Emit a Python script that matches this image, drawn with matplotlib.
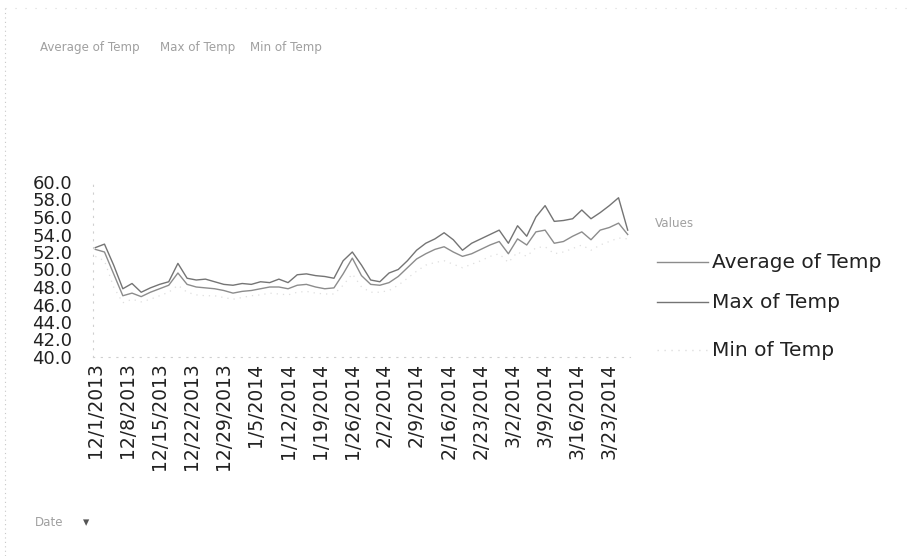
import matplotlib
matplotlib.use("Agg")
import matplotlib.pyplot as plt
from matplotlib.lines import Line2D
import pandas as pd

plt.rcParams['font.family'] = ['DejaVu Sans']

start_date = "2013-12-01"
n_points = 59  # every 2 days, 12/1/2013 .. 3/27/2014

max_temp = [52.5, 52.9, 50.5, 47.8, 48.4, 47.4, 47.9, 48.3, 48.6, 50.7,
            49.0, 48.8, 48.9, 48.6, 48.3, 48.2, 48.4, 48.3, 48.6, 48.5,
            48.9, 48.5, 49.4, 49.5, 49.3, 49.2, 49.0, 51.0, 52.0, 50.5,
            48.8, 48.6, 49.6, 50.0, 51.0, 52.2, 53.0, 53.5, 54.2, 53.4,
            52.2, 53.0, 53.5, 54.0, 54.5, 53.0, 55.0, 53.8, 56.0, 57.3,
            55.5, 55.6, 55.8, 56.8, 55.8, 56.5, 57.3, 58.2, 54.5]
avg_temp = [52.3, 52.0, 49.5, 47.0, 47.3, 46.9, 47.4, 47.8, 48.2, 49.6,
            48.3, 48.0, 47.9, 47.8, 47.6, 47.3, 47.5, 47.6, 47.8, 48.0,
            48.0, 47.8, 48.2, 48.3, 48.0, 47.8, 47.9, 49.5, 51.3, 49.3,
            48.3, 48.2, 48.5, 49.2, 50.2, 51.2, 51.8, 52.3, 52.6, 52.0,
            51.5, 51.8, 52.3, 52.8, 53.2, 51.8, 53.5, 52.8, 54.3, 54.5,
            53.0, 53.2, 53.8, 54.3, 53.4, 54.5, 54.8, 55.3, 54.0]
min_temp = [51.5, 51.0, 48.0, 46.2, 46.6, 46.3, 46.6, 47.0, 47.4, 48.2,
            47.4, 47.1, 47.0, 47.0, 46.8, 46.6, 46.8, 47.0, 47.1, 47.3,
            47.2, 47.1, 47.4, 47.5, 47.3, 47.2, 47.2, 48.2, 49.5, 48.0,
            47.4, 47.4, 47.6, 48.2, 49.0, 49.8, 50.5, 50.8, 51.0, 50.6,
            50.2, 50.6, 51.0, 51.5, 51.8, 50.8, 52.0, 51.5, 52.5, 52.6,
            51.8, 52.0, 52.4, 52.8, 52.2, 52.8, 53.2, 53.6, 53.5]

series_names = ["Average of Temp", "Max of Temp", "Min of Temp"]
y_ticks = [40.0, 42.0, 44.0, 46.0, 48.0, 50.0, 52.0, 54.0, 56.0, 58.0, 60.0]
tick_dates = pd.date_range("2013-12-01", "2014-03-23", freq="7D")

dates = pd.date_range(start_date, periods=n_points, freq="2D")

W, H = 908, 556
fig = plt.figure(figsize=(W / 100, H / 100), dpi=100)
fig.patch.set_facecolor("white")

def fx(px):
    return px / W

def fy(py):
    return 1 - py / H

ax = fig.add_axes([fx(93), fy(357), fx(630) - fx(93), fy(182) - fy(357)])

c_avg = "#8c8c8c"
c_max = "#747474"
c_min = "#dedede"
ax.plot(dates, avg_temp, color=c_avg, lw=1.0)
ax.plot(dates, max_temp, color=c_max, lw=1.0)
ax.plot(dates, min_temp, color=c_min, lw=0.9, ls=(0, (1, 4)))

ax.set_ylim(40, 60)
ax.set_yticks(y_ticks)
ax.set_yticklabels([f"{v:.1f}" for v in y_ticks])
ax.set_xlim(pd.Timestamp("2013-11-30 12:00"), pd.Timestamp("2014-03-27 12:00"))
ax.set_xticks(tick_dates)
ax.set_xticklabels([f"{d.month}/{d.day}/{d.year}" for d in tick_dates], rotation=90)

ax.tick_params(axis="x", length=0, labelsize=13.5, colors="#222222", pad=4)
ax.tick_params(axis="y", length=0, labelsize=13, colors="#222222", pad=15)

for s in ["top", "right"]:
    ax.spines[s].set_visible(False)
for s in ["left", "bottom"]:
    ax.spines[s].set_color("#cfcfcf")
    ax.spines[s].set_linestyle((0, (1, 6)))
    ax.spines[s].set_linewidth(0.8)

# field buttons at top
btn = dict(fontsize=8.6, color="#a0a0a0", va="center")
fig.text(fx(40), fy(47), "Average of Temp", **btn)
fig.text(fx(160), fy(47), "Max of Temp", **btn)
fig.text(fx(250), fy(47), "Min of Temp", **btn)

# right legend
fig.text(fx(655), fy(224), "Values", **btn)
leg_rows = [(262, c_avg, "-"), (302, c_max, "-"), (350, c_min, (0, (1, 4)))]
for (py, col, ls), name in zip(leg_rows, series_names):
    fig.add_artist(Line2D([fx(657), fx(708)], [fy(py), fy(py)], color=col, lw=1.0,
                          ls=ls, transform=fig.transFigure))
    fig.text(fx(712), fy(py), name, fontsize=14.5, color="#222222", va="center")

# date field button
fig.text(fx(35), fy(523), "Date", **btn)
fig.text(fx(83), fy(523), "\u25BE", fontsize=9, color="#555555", va="center")

# dotted chart border (scan edge)
fig.add_artist(Line2D([fx(5), fx(5)], [fy(8), 0], color="#c8c8c8", lw=0.8,
                      ls=(0, (1, 3)), transform=fig.transFigure))
fig.add_artist(Line2D([fx(5), 1], [fy(8), fy(8)], color="#d8d8d8", lw=0.8,
                      ls=(0, (1, 8)), transform=fig.transFigure))

fig.savefig("out.png", dpi=100, facecolor="white")
